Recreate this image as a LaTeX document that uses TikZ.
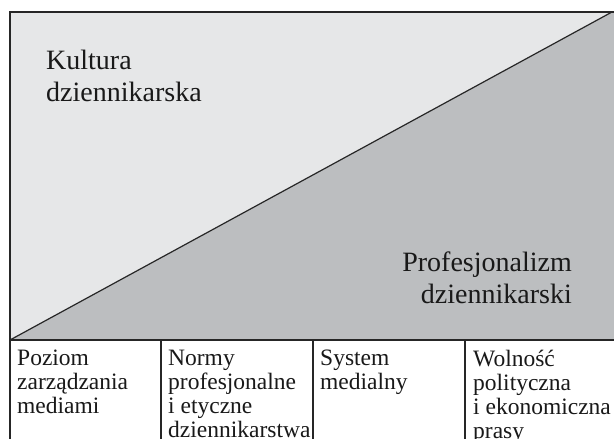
\documentclass[tikz,border=0pt]{standalone}
\usepackage{fontspec}
\setmainfont{Liberation Serif}
\definecolor{lightfill}{HTML}{E6E7E8}
\definecolor{darkfill}{HTML}{BCBEC0}
\tikzset{
  frame/.style={line width=1.2pt, draw=black!85},
  bigtext/.style={font=\fontsize{28}{32}\selectfont, inner sep=0pt, text=black!90},
  boxtext/.style={font=\fontsize{23.5}{24}\selectfont, inner sep=0pt, align=left, anchor=north west, text=black!90},
}
\begin{document}
\begin{tikzpicture}[x=1pt,y=1pt]
\useasboundingbox (0,0) rectangle (614,439);
% corners
\coordinate (bl) at (10,99);
\coordinate (tl) at (10,427);
\coordinate (tr) at (612,427);
\coordinate (trx) at (616,427);
\coordinate (brx) at (616,99);
\coordinate (bot) at (10,-2);
\coordinate (botr) at (616,-2);
% fills
\fill[darkfill] (bl) -- (tr) -- (trx) -- (brx) -- cycle;
\fill[lightfill] (bl) -- (tl) -- (tr) -- cycle;
\fill[white] (bl) rectangle (botr);
% lines
\draw[frame] (bl) -- (tr);
\draw[frame] (bot) -- (tl) -- (trx);
\draw[frame] (bl) -- (brx);
\coordinate (d1t) at (161,99); \coordinate (d1b) at (161,-2);
\coordinate (d2t) at (313,99); \coordinate (d2b) at (313,-2);
\coordinate (d3t) at (465,99); \coordinate (d3b) at (465,-2);
\draw[frame] (d1t) -- (d1b);
\draw[frame] (d2t) -- (d2b);
\draw[frame] (d3t) -- (d3b);
% texts
\node[bigtext, align=left, anchor=north west] (kultura) at (46,389) {Kultura\\dziennikarska};
\node[bigtext, align=right, anchor=north east] (prof) at (572,187) {Profesjonalizm\\dziennikarski};
\node[boxtext] (b1) at (17,89) {Poziom\\zarządzania\\mediami};
\node[boxtext] (b2) at (168,89) {Normy\\profesjonalne\\i etyczne\\dziennikarstwa};
\node[boxtext] (b3) at (320,89) {System\\medialny};
\node[boxtext] (b4) at (473,89) {Wolność\\polityczna\\i ekonomiczna\\prasy};
\end{tikzpicture}
\end{document}
